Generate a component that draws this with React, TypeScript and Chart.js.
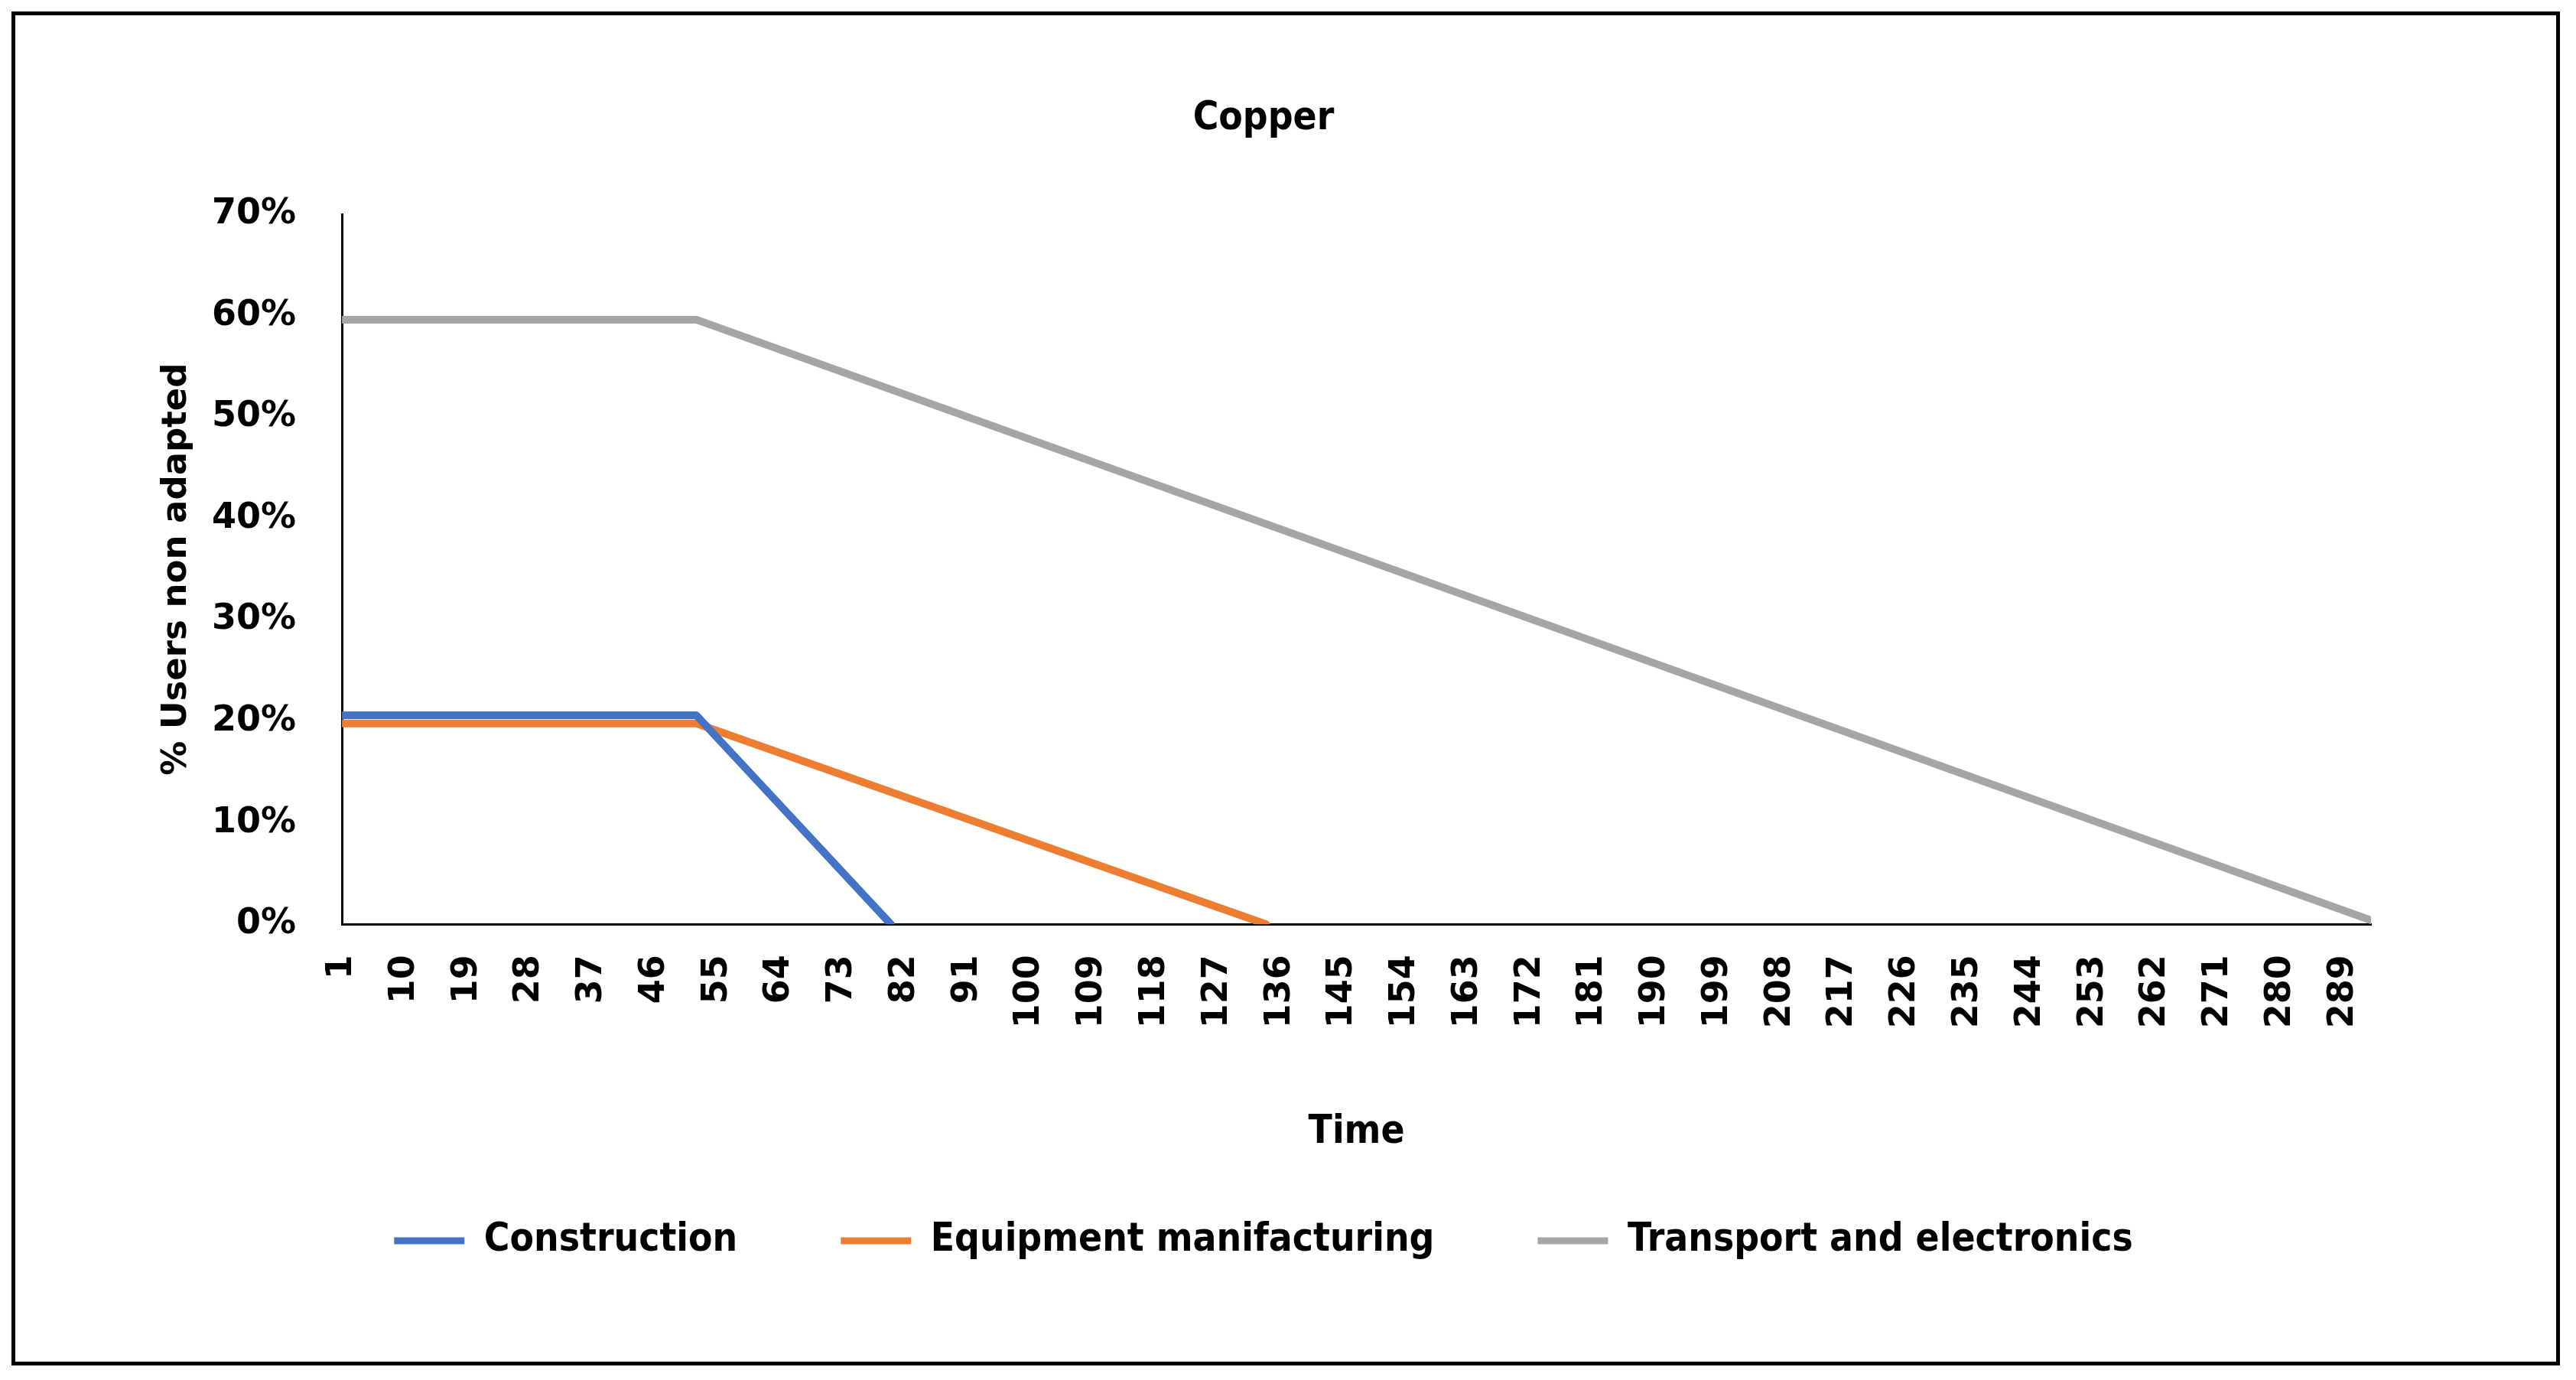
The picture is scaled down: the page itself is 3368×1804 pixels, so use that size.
import { useEffect, useRef } from "react";
import { Chart, registerables } from "chart.js";

Chart.register(...registerables);

// Tick labels shown on the Time axis (every 9th period)
const timeTicks = [
  1, 10, 19, 28, 37, 46, 55, 64, 73, 82, 91, 100, 109, 118, 127, 136, 145, 154,
  163, 172, 181, 190, 199, 208, 217, 226, 235, 244, 253, 262, 271, 280, 289,
];
const timeMin = 1;
const timeMax = 293;
const yTickLabels = ["0%", "10%", "20%", "30%", "40%", "50%", "60%", "70%"];

const seriesNames = [
  "Construction",
  "Equipment manifacturing",
  "Transport and electronics",
];

// Breakpoints of each series (time period, share of users not adapted)
const constructionTime = [1, 52, 80];
const constructionShare = [0.206, 0.206, 0];
const equipmentTime = [1, 52, 134];
const equipmentShare = [0.198, 0.198, 0];
const transportTime = [1, 52, 293];
const transportShare = [0.596, 0.596, 0.004];

const seriesColors = ["#4472C4", "#ED7D31", "#A5A5A5"];

export default function App() {
  const ref = useRef<HTMLCanvasElement>(null);

  useEffect(() => {
    const canvas = ref.current;
    if (!canvas) return;
    const narrow = "'DejaVu Sans Condensed', 'DejaVu Sans', sans-serif";
    const wide = "'DejaVu Sans', Verdana, sans-serif";
    const pts = (t: number[], v: number[]) => t.map((x, i) => ({ x, y: v[i] }));
    const times = [constructionTime, equipmentTime, transportTime];
    const shares = [constructionShare, equipmentShare, transportShare];

    const chart = new Chart(canvas, {
      type: "line",
      data: {
        datasets: seriesNames.map((name, i) => ({
          label: name,
          data: pts(times[i], shares[i]),
          borderColor: seriesColors[i],
          backgroundColor: seriesColors[i],
          borderWidth: 10,
          tension: 0,
          borderJoinStyle: "round" as const,
          borderCapStyle: "round" as const,
          pointRadius: 0,
          pointHoverRadius: 0,
        })),
      },
      options: {
        animation: false,
        responsive: false,
        devicePixelRatio: 1,
        layout: { padding: { left: 184, right: 242, top: 0, bottom: 122.5 } },
        plugins: {
          title: {
            display: true,
            text: "Copper",
            color: "#000",
            font: { family: narrow, size: 51, weight: "bold", lineHeight: 1.2 },
            padding: { top: 105, bottom: 93.8 },
          },
          legend: {
            position: "bottom",
            labels: {
              color: "#000",
              font: { family: narrow, size: 51, weight: "bold" },
              boxWidth: 92,
              boxHeight: 9,
              padding: 135,
              generateLabels: (c: any) =>
                Chart.defaults.plugins.legend.labels
                  .generateLabels(c)
                  .map((l: any) => ({ ...l, lineWidth: 0, fillStyle: l.strokeStyle })),
            },
          },
          tooltip: { enabled: false },
        },
        scales: {
          x: {
            type: "linear",
            min: timeMin,
            max: timeMax,
            grid: { display: false, drawTicks: false },
            border: { display: true, color: "#000", width: 3 },
            afterBuildTicks: (s: any) => {
              s.ticks = timeTicks.map((value) => ({ value }));
            },
            ticks: {
              autoSkip: false,
              maxRotation: 90,
              minRotation: 90,
              padding: 40,
              color: "#000",
              font: { family: wide, size: 46, weight: "bold" },
              callback: (v: any) => String(v),
            },
            title: {
              display: true,
              text: "Time",
              color: "#000",
              font: { family: narrow, size: 51, weight: "bold", lineHeight: 1.2 },
              padding: { top: 66, bottom: -50 },
            },
          },
          y: {
            min: 0,
            max: 0.7,
            grid: { display: false, drawTicks: false },
            border: { display: true, color: "#000", width: 3 },
            ticks: {
              stepSize: 0.1,
              padding: 60,
              color: "#000",
              font: { family: wide, size: 46, weight: "bold" },
              callback: (v: any) => yTickLabels[Math.round(Number(v) * 10)],
            },
            title: {
              display: true,
              text: "% Users non adapted",
              color: "#000",
              font: { family: wide, size: 45, weight: "bold", lineHeight: 1.2 },
              padding: { top: 0, bottom: -41 },
            },
          },
        },
      },
    } as any);
    return () => chart.destroy();
  }, []);

  return (
    <div
      style={{
        position: "absolute",
        left: 15,
        top: 15,
        width: 3332,
        height: 1770,
        border: "5px solid #000",
        boxSizing: "border-box",
        background: "#fff",
      }}
    >
      <canvas
        ref={ref}
        width={3322}
        height={1760}
        style={{ display: "block", width: 3322, height: 1760 }}
      />
    </div>
  );
}
